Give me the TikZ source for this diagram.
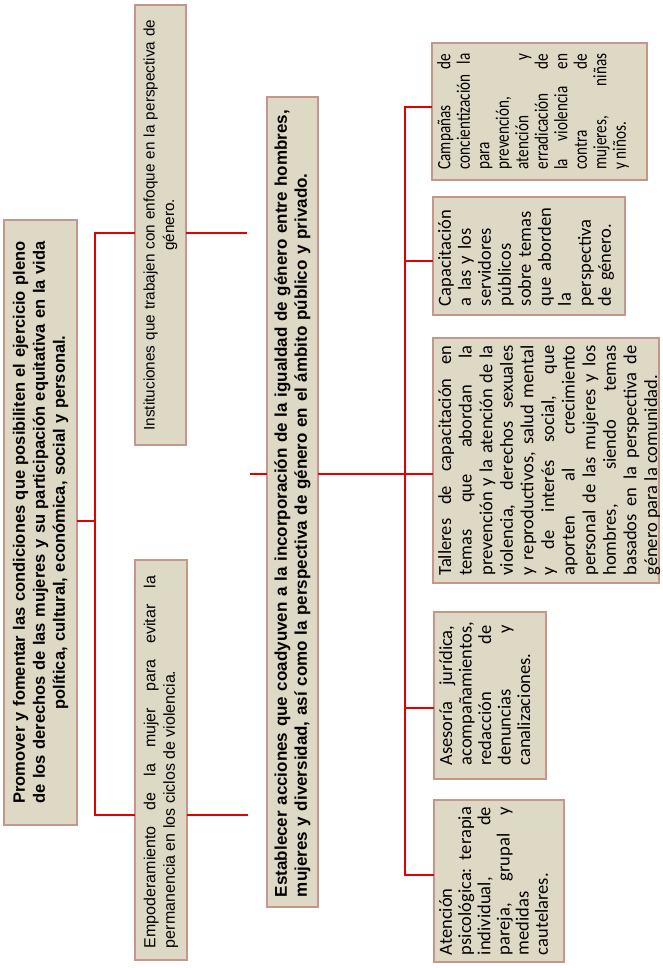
\documentclass[tikz,border=0pt]{standalone}
\usepackage{fontspec}
\setmainfont{Liberation Sans}
\newfontfamily\calfont{Carlito}
\newfontfamily\calnarrow[FakeStretch=0.8]{Carlito}
\definecolor{boxfill}{RGB}{221,217,196}
\definecolor{boxline}{RGB}{196,150,140}
\definecolor{linkred}{RGB}{228,0,0}
\tikzset{
  box/.style={draw=boxline, fill=boxfill, line width=1.2pt, inner sep=0pt, outer sep=0pt},
  txt/.style={rotate=90, inner sep=0pt},
  link/.style={draw=linkred, line width=2.8pt},
}
\begin{document}
\begin{tikzpicture}[x=1pt, y=-1pt]
\useasboundingbox (0,0) rectangle (662,968);
\fill[white] (0,0) rectangle (662,968);

% boxes
\node[box, minimum width=73pt, minimum height=605pt] (root) at (40.5,522.5) {};
\node[box, minimum width=51pt, minimum height=440pt] (inst) at (160.5,225) {};
\node[box, minimum width=52pt, minimum height=400pt] (empo) at (161,760) {};
\node[box, minimum width=51pt, minimum height=810pt] (est) at (292.5,502) {};
\node[box, minimum width=215pt, minimum height=137pt] (camp) at (539.5,111.5) {};
\node[box, minimum width=192pt, minimum height=118pt] (capa) at (529,256) {};
\node[box, minimum width=226pt, minimum height=245pt] (tall) at (546,460.5) {};
\node[box, minimum width=112pt, minimum height=167pt] (ases) at (490,695.5) {};
\node[box, minimum width=130pt, minimum height=162pt] (aten) at (499,881) {};

% texts
\node[txt, text width=590pt, align=center, font=\bfseries\fontsize{16.5}{20}\selectfont] (rootT) at (root.center)
 {Promover y fomentar las condiciones que posibiliten el ejercicio pleno\\
  de los derechos de las mujeres y su participación equitativa en la vida\\
  política, cultural, económica, social y personal.};
\node[txt, text width=420pt, align=center, font=\fontsize{15.3}{19.5}\selectfont] (instT) at (inst.center)
 {Instituciones que trabajen con enfoque en la perspectiva de\\ género.};
\node[txt, text width=372pt, align=justify, font=\fontsize{16}{19.5}\selectfont] (empoT) at ([yshift=-2pt]empo.center)
 {Empoderamiento de la mujer para evitar la\linebreak permanencia en los ciclos de violencia.};
\node[txt, text width=790pt, align=left, font=\bfseries\fontsize{17}{20}\selectfont] (estT) at (est.center)
 {Establecer acciones que coadyuven a la incorporación de la igualdad de género entre hombres,\\
  mujeres y diversidad, así como la perspectiva de género en el ámbito público y privado.};

\node[txt, anchor=north, text width=116pt, align=justify, font=\calnarrow\fontsize{19}{19.5}\selectfont] (campT) at ([xshift=5pt]camp.west)
 {Campañas de\linebreak concientización la\linebreak para\\ prevención,\\ atención y\linebreak erradicación de\linebreak la violencia en\linebreak contra de\linebreak mujeres, niñas\linebreak y niños.};
\node[txt, anchor=north, text width=100pt, align=left, font=\calfont\fontsize{18.5}{20}\selectfont] (capaT) at ([xshift=5pt]capa.west)
 {Capacitación\\ a las y los\\ servidores\\ públicos\\ sobre temas\\ que aborden\\ la\\ perspectiva\\ de género.};
\node[txt, anchor=north, text width=230pt, align=justify, font=\calfont\fontsize{18.5}{20.6}\selectfont] (tallT) at ([xshift=5pt]tall.west)
 {Talleres de capacitación en\linebreak temas que abordan la\linebreak prevención y la atención de la\linebreak violencia, derechos sexuales\linebreak y reproductivos, salud mental\linebreak y de interés social, que\linebreak aporten al crecimiento\linebreak personal de las mujeres y los\linebreak hombres, siendo temas\linebreak basados en la perspectiva de\linebreak género para la comunidad.};
\node[txt, anchor=north, text width=140pt, align=justify, font=\calfont\fontsize{18.5}{19.5}\selectfont] (asesT) at ([xshift=5pt]ases.west)
 {Asesoría jurídica,\linebreak acompañamientos,\\ redacción de\linebreak denuncias y\linebreak canalizaciones.};
\node[txt, anchor=north, text width=148pt, align=justify, font=\calfont\fontsize{18.5}{19.2}\selectfont] (atenT) at ([xshift=5pt]aten.west)
 {Atención\\ psicológica: terapia\linebreak individual, de\linebreak pareja, grupal y\linebreak medidas\\ cautelares.};

% connectors
\coordinate (j0) at (95,521);
\coordinate (jInst) at (95,233);
\coordinate (jEmp) at (95,815);
\draw[link] (root.east |- j0) -- (j0);
\draw[link] (inst.west |- jInst) -- (jInst) -- (jEmp) -- (empo.west |- jEmp);
\coordinate (eInst) at (247,233);
\coordinate (eEmp) at (248,815);
\draw[link] (inst.east |- eInst) -- (eInst);
\draw[link] (empo.east |- eEmp) -- (eEmp);
\coordinate (sEst) at (250,474);
\draw[link] (sEst) -- (est.west |- sEst);
\coordinate (bTall) at (405,474);
\draw[link] (est.east |- bTall) -- (bTall) -- (tall.west |- bTall);
\coordinate (bTop) at (405,107);
\coordinate (bCapa) at (405,261);
\coordinate (bAses) at (405,708);
\coordinate (bBot) at (405,875);
\draw[link] (camp.west |- bTop) -- (bTop) -- (bBot) -- (aten.west |- bBot);
\draw[link] (bCapa) -- (capa.west |- bCapa);
\draw[link] (bAses) -- (ases.west |- bAses);
\end{tikzpicture}
\end{document}
